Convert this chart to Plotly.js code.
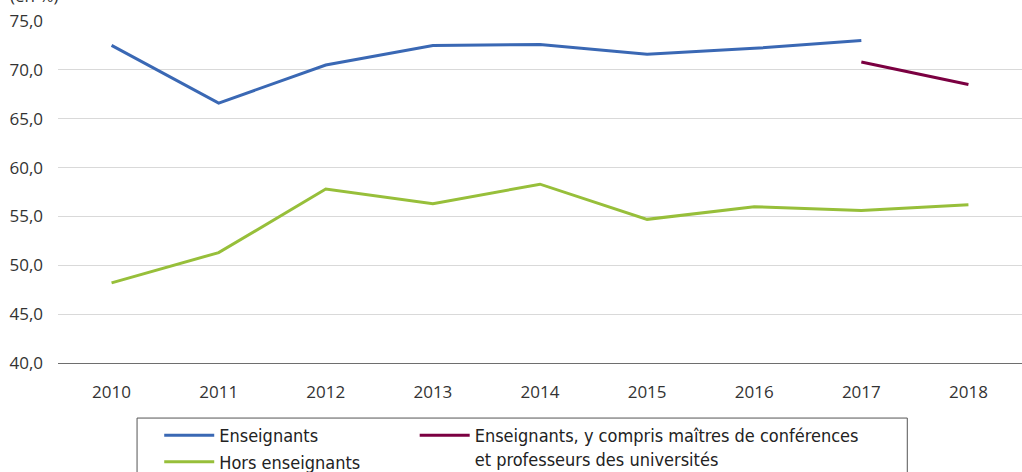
<!DOCTYPE html>
<html>
<head>
<meta charset="utf-8">
<script src="https://cdn.plot.ly/plotly-3.0.1.min.js"></script>
<style>html,body{margin:0;padding:0;background:#fff;}#chart{width:1022px;height:472px;}</style>
</head>
<body>
<div id="chart"></div>
<script>
const years = ['2010','2011','2012','2013','2014','2015','2016','2017','2018'];
const enseignants = [72.5, 66.6, 70.5, 72.5, 72.6, 71.6, 72.2, 73.0, null];
const enseignantsUniv = [null, null, null, null, null, null, null, 70.8, 68.5];
const horsEnseignants = [48.2, 51.3, 57.8, 56.3, 58.3, 54.7, 56.0, 55.6, 56.2];
const yTicks = [40, 45, 50, 55, 60, 65, 70, 75];

const legendFont = {family: 'Liberation Sans Narrow, DejaVu Sans Condensed, sans-serif', size: 18, color: '#222'};

const traces = [
  {x: years, y: enseignants, name: 'Enseignants', type: 'scatter', mode: 'lines',
   line: {color: '#3a68b4', width: 3}, legend: 'legend'},
  {x: years, y: horsEnseignants, name: 'Hors enseignants', type: 'scatter', mode: 'lines',
   line: {color: '#97bf3a', width: 3}, legend: 'legend'},
  {x: years, y: enseignantsUniv, name: 'Enseignants, y compris maîtres de conférences<br>et professeurs des universités',
   type: 'scatter', mode: 'lines', line: {color: '#7b0041', width: 3}, legend: 'legend2'}
];

const layout = {
  width: 1022, height: 472,
  margin: {l: 58, r: 0, t: 21, b: 109, autoexpand: false},
  separators: ', ',
  paper_bgcolor: '#fff', plot_bgcolor: '#fff',
  font: {family: 'Open Sans, sans-serif', size: 17, color: '#333'},
  xaxis: {
    type: 'category', tickvals: years, ticktext: years, range: [-0.5, 8.5], autorange: false,
    showgrid: false, zeroline: false, showline: true, linecolor: '#6e6e6e', linewidth: 1,
    ticks: '', ticklabelstandoff: 14, tickfont: {size: 17, color: '#333'}
  },
  yaxis: {
    range: [40, 75], autorange: false, tickvals: yTicks, tickformat: '.1f',
    showgrid: true, gridcolor: '#d9d9d9', gridwidth: 1, zeroline: false, showline: false,
    ticks: '', ticklabelstandoff: 14, tickfont: {size: 17, color: '#333'}
  },
  showlegend: true,
  legend: {x: 0.105, y: -0.158, xanchor: 'left', yanchor: 'top', orientation: 'v',
    bgcolor: 'rgba(0,0,0,0)', borderwidth: 0, font: legendFont, itemwidth: 50, tracegroupgap: 0},
  legend2: {x: 0.37, y: -0.158, xanchor: 'left', yanchor: 'top', orientation: 'v',
    bgcolor: 'rgba(0,0,0,0)', borderwidth: 0, font: legendFont, itemwidth: 50, valign: 'top'},
  shapes: [{type: 'rect', xref: 'paper', yref: 'paper', x0: 0.082, x1: 0.881, y0: -0.161, y1: -0.36,
    line: {color: '#555', width: 1}, fillcolor: 'rgba(0,0,0,0)'}],
  annotations: [{text: '(en %)', xref: 'paper', yref: 'paper', x: -0.052, y: 1.035,
    xanchor: 'left', yanchor: 'bottom', showarrow: false, font: {size: 17, color: '#333'}}]
};

Plotly.newPlot('chart', traces, layout, {displayModeBar: false, staticPlot: true});
</script>
</body>
</html>
